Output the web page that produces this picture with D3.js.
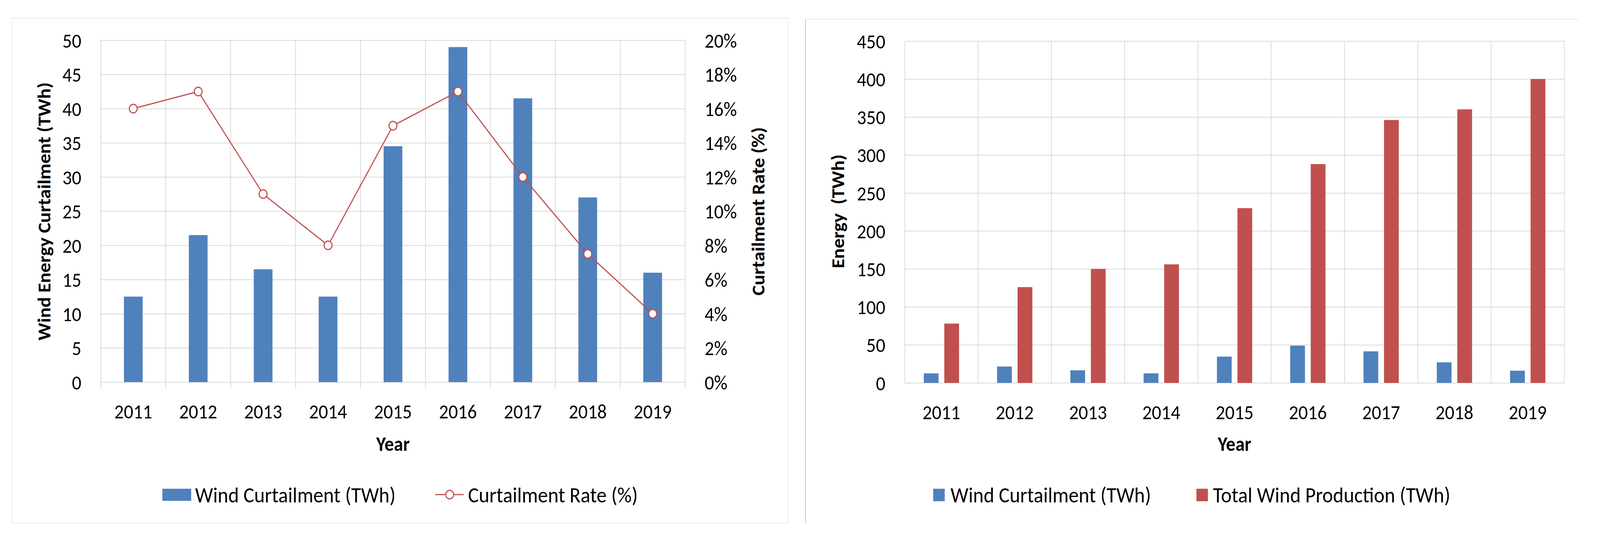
<!DOCTYPE html>
<html>
<head>
<meta charset="utf-8">
<script src="https://cdn.jsdelivr.net/npm/d3@7"></script>
<style>
    html, body { margin: 0; padding: 0; overflow: hidden; background: #fff; }
    #chart svg { display: block; }
    svg text { font-family: Calibri, Carlito, Lato, sans-serif; fill: #000; }
</style>
</head>
<body>
<div id="chart"></div>
<script>
// data
const years = ["2011", "2012", "2013", "2014", "2015", "2016", "2017", "2018", "2019"]
const curtailment = [12.5, 21.5, 16.5, 12.5, 34.5, 49, 41.5, 27, 16]          // TWh
const curtailmentRate = [0.16, 0.17, 0.11, 0.08, 0.15, 0.17, 0.12, 0.075, 0.04]
const production = [78, 126, 150, 156, 230, 288, 346, 360, 400]               // TWh
const leftTicks = [0, 5, 10, 15, 20, 25, 30, 35, 40, 45, 50]
const rateTicks = [0, 0.02, 0.04, 0.06, 0.08, 0.10, 0.12, 0.14, 0.16, 0.18, 0.20]
const energyTicks = [0, 50, 100, 150, 200, 250, 300, 350, 400, 450]

const blue = "#4F81BD"
const red = "#C0504D"
const grid = "#D9D9D9"
const tickFont = 52
const legendFont = 56

// the drawing is laid out on a 4444x1372 board and stretched to fill the viewport
let svg = d3.select("#chart")
    .append("svg")
    .attr("viewBox", "0 0 4444 1372")
    .attr("preserveAspectRatio", "none")
    .attr("width", window.innerWidth)
    .attr("height", window.innerHeight)

function styleAxis(g, anchor) {
    g.select(".domain").remove()
    g.selectAll(".tick line")
        .attr("stroke", grid)
        .attr("stroke-width", 2)
    g.selectAll(".tick text")
        .attr("font-size", tickFont)
        .attr("dy", "0.35em")
        .attr("text-anchor", anchor)
}

function drawFrame(context) {
    // vertical category separators
    let edges = years.map(d => context.x(d)).concat([context.x.range()[1]])
    context.svg.append("g")
        .selectAll("line")
        .data(edges)
        .enter()
        .append("line")
        .attr("x1", d => d).attr("x2", d => d)
        .attr("y1", context.top)
        .attr("y2", context.bottom + context.tickBelow)
        .attr("stroke", grid)
        .attr("stroke-width", 2)

    // x labels
    let xAxis = context.svg.append("g")
        .attr("transform", "translate(0," + context.bottom + ")")
        .call(d3.axisBottom(context.x).tickSize(0).tickPadding(0))
    xAxis.select(".domain").remove()
    xAxis.selectAll(".tick text")
        .attr("font-size", tickFont)
        .attr("y", 75)
        .attr("dy", "0.35em")

    context.svg.append("text")
        .attr("x", (context.x.range()[0] + context.x.range()[1]) / 2)
        .attr("y", 1136)
        .attr("dy", "0.35em")
        .attr("text-anchor", "middle")
        .attr("font-size", 52)
        .attr("font-weight", "bold")
        .text("Year")
}

function yTitle(g, x, text) {
    g.append("text")
        .attr("transform", "translate(" + x + ",541) rotate(-90)")
        .attr("dy", "0.35em")
        .attr("text-anchor", "middle")
        .attr("font-size", 50)
        .attr("font-weight", "bold")
        .style("white-space", "pre")
        .text(text)
}

// ---------- left chart: curtailment and curtailment rate ----------
function drawLeft() {
    let context = Object()
    context.svg = svg.append("g")
    context.top = 103
    context.bottom = 978
    context.tickBelow = 18

    context.svg.append("rect")
        .attr("x", 33).attr("y", 46)
        .attr("width", 2189 - 33).attr("height", 1339 - 46)
        .attr("fill", "none")
        .attr("stroke", "#EBEBEB")
        .attr("stroke-width", 2)

    context.x = d3.scaleBand().domain(years).range([280, 1903])
    context.y1 = d3.scaleLinear().domain([0, 50]).range([context.bottom, context.top])
    context.y2 = d3.scaleLinear().domain([0, 0.2]).range([context.bottom, context.top])
    let w = context.x.range()[1] - context.x.range()[0]

    let yAxis = context.svg.append("g")
        .attr("transform", "translate(280,0)")
        .call(d3.axisLeft(context.y1).tickValues(leftTicks).tickSize(-w).tickPadding(54))
    styleAxis(yAxis, "end")

    let y2Axis = context.svg.append("g")
        .attr("transform", "translate(1903,0)")
        .call(d3.axisRight(context.y2).tickValues(rateTicks).tickSize(0).tickPadding(54)
            .tickFormat(d3.format(".0%")))
    styleAxis(y2Axis, "start")

    drawFrame(context)

    let bw = 52
    context.svg.append("g")
        .selectAll("rect")
        .data(curtailment)
        .enter()
        .append("rect")
        .attr("x", (d, i) => context.x(years[i]) + context.x.bandwidth() / 2 - bw / 2)
        .attr("y", d => context.y1(d))
        .attr("width", bw)
        .attr("height", d => context.bottom - context.y1(d))
        .attr("fill", blue)

    let line = d3.line()
        .x((d, i) => context.x(years[i]) + context.x.bandwidth() / 2)
        .y(d => context.y2(d))
    context.svg.append("path")
        .datum(curtailmentRate)
        .attr("d", line)
        .attr("fill", "none")
        .attr("stroke", red)
        .attr("stroke-width", 3)
    context.svg.append("g")
        .selectAll("circle")
        .data(curtailmentRate)
        .enter()
        .append("circle")
        .attr("cx", (d, i) => context.x(years[i]) + context.x.bandwidth() / 2)
        .attr("cy", d => context.y2(d))
        .attr("r", 11)
        .attr("fill", "#fff")
        .attr("stroke", red)
        .attr("stroke-width", 3)

    yTitle(context.svg, 122, "Wind Energy Curtailment (TWh)")
    yTitle(context.svg, 2106, "Curtailment Rate (%)")

    // legend
    let lg = context.svg.append("g")
    lg.append("rect").attr("x", 451).attr("y", 1251).attr("width", 80).attr("height", 31).attr("fill", blue)
    lg.append("text").attr("x", 542).attr("y", 1266).attr("dy", "0.35em")
        .attr("font-size", legendFont).text("Wind Curtailment (TWh)")
    lg.append("line").attr("x1", 1209).attr("x2", 1288).attr("y1", 1266).attr("y2", 1266)
        .attr("stroke", red).attr("stroke-width", 3)
    lg.append("circle").attr("cx", 1249).attr("cy", 1266).attr("r", 11)
        .attr("fill", "#fff").attr("stroke", red).attr("stroke-width", 3)
    lg.append("text").attr("x", 1300).attr("y", 1266).attr("dy", "0.35em")
        .attr("font-size", legendFont).text("Curtailment Rate (%)")
}

// ---------- right chart: curtailment vs total production ----------
function drawRight() {
    let context = Object()
    context.svg = svg.append("g")
    context.top = 105
    context.bottom = 980
    context.tickBelow = 0

    context.svg.append("line")
        .attr("x1", 2237).attr("x2", 4384).attr("y1", 49).attr("y2", 49)
        .attr("stroke", "#EBEBEB").attr("stroke-width", 2)
    context.svg.append("line")
        .attr("x1", 2237).attr("x2", 2237).attr("y1", 49).attr("y2", 1339)
        .attr("stroke", "#BFBFBF").attr("stroke-width", 2)

    context.x = d3.scaleBand().domain(years).range([2513, 4345])
    context.y = d3.scaleLinear().domain([0, 450]).range([context.bottom, context.top])
    let w = context.x.range()[1] - context.x.range()[0]

    let yAxis = context.svg.append("g")
        .attr("transform", "translate(2513,0)")
        .call(d3.axisLeft(context.y).tickValues(energyTicks).tickSize(-w).tickPadding(54))
    styleAxis(yAxis, "end")

    drawFrame(context)

    let bw = 41
    let gap = 8
    let center = d => context.x(d) + context.x.bandwidth() / 2
    context.svg.append("g")
        .selectAll("rect")
        .data(curtailment)
        .enter()
        .append("rect")
        .attr("x", (d, i) => center(years[i]) - gap - bw)
        .attr("y", d => context.y(d))
        .attr("width", bw)
        .attr("height", d => context.bottom - context.y(d))
        .attr("fill", blue)
    context.svg.append("g")
        .selectAll("rect")
        .data(production)
        .enter()
        .append("rect")
        .attr("x", (d, i) => center(years[i]) + gap)
        .attr("y", d => context.y(d))
        .attr("width", bw)
        .attr("height", d => context.bottom - context.y(d))
        .attr("fill", red)

    yTitle(context.svg, 2327, "Energy  (TWh)")

    let lg = context.svg.append("g")
    lg.append("rect").attr("x", 2592).attr("y", 1251).attr("width", 32).attr("height", 32).attr("fill", blue)
    lg.append("text").attr("x", 2640).attr("y", 1266).attr("dy", "0.35em")
        .attr("font-size", legendFont).text("Wind Curtailment (TWh)")
    lg.append("rect").attr("x", 3323).attr("y", 1251).attr("width", 32).attr("height", 32).attr("fill", red)
    lg.append("text").attr("x", 3369).attr("y", 1266).attr("dy", "0.35em")
        .attr("font-size", legendFont).text("Total Wind Production (TWh)")
}

drawLeft()
drawRight()
</script>
</body>
</html>
